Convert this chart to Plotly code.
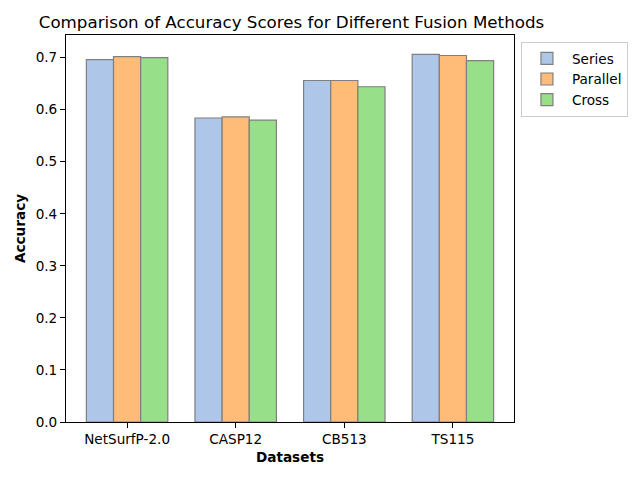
import plotly.graph_objects as go

datasets = ["NetSurfP-2.0", "CASP12", "CB513", "TS115"]
series_vals = [0.696, 0.584, 0.656, 0.706]
parallel_vals = [0.702, 0.586, 0.656, 0.704]
cross_vals = [0.700, 0.580, 0.644, 0.694]
methods = ["Series", "Parallel", "Cross"]
colors = ["#aec7e8", "#ffbb78", "#98df8a"]
yticks = [0.0, 0.1, 0.2, 0.3, 0.4, 0.5, 0.6, 0.7]

width = 0.25
fig = go.Figure()
for k, (name, vals, col) in enumerate(zip(methods, [series_vals, parallel_vals, cross_vals], colors)):
    fig.add_trace(go.Bar(
        x=[i + (k - 1) * width for i in range(len(datasets))],
        y=vals, width=width, name=name,
        marker=dict(color=col, line=dict(color="#7f7f7f", width=1.2)),
    ))

font = "DejaVu Sans"
fig.update_layout(
    width=632, height=472,
    paper_bgcolor="white", plot_bgcolor="white",
    margin=dict(l=58, r=123, t=27, b=58),
    font=dict(family=font, size=13.6, color="black"),
    title=dict(text="Comparison of Accuracy Scores for Different Fusion Methods",
               x=(58 + 509) / 2 / 632, xanchor="center", y=1 - 14 / 472, yanchor="middle",
               font=dict(size=16.7)),
    barmode="overlay",
    showlegend=True,
    legend=dict(x=1.0155, y=0.982, xanchor="left", yanchor="top",
                bordercolor="#cccccc", borderwidth=1, bgcolor="white",
                font=dict(size=13.6), tracegroupgap=2, itemwidth=40),
    xaxis=dict(range=[-0.5625, 3.5625], tickvals=list(range(len(datasets))), ticktext=datasets,
               showline=True, linecolor="black", linewidth=1, mirror=True,
               ticks="outside", ticklen=5, tickcolor="black", showgrid=False, zeroline=False,
               title=dict(text="<b>Datasets</b>", font=dict(size=13.6), standoff=6)),
    yaxis=dict(range=[0, 0.7434], tickvals=yticks, ticktext=[f"{v:.1f}" for v in yticks],
               showline=True, linecolor="black", linewidth=1, mirror=True,
               ticks="outside", ticklen=5, tickcolor="black", showgrid=False, zeroline=False,
               title=dict(text="<b>Accuracy</b>", font=dict(size=13.6), standoff=6)),
)
fig.write_html("out.html")
